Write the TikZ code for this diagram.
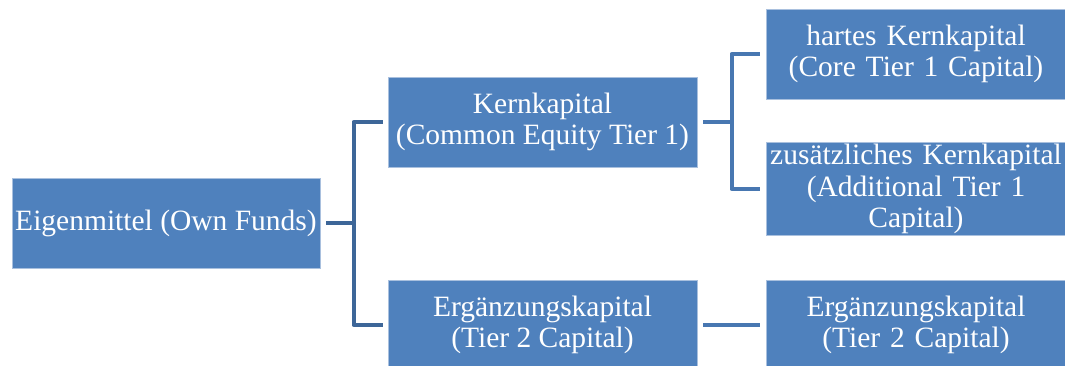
\documentclass[tikz,border=0pt]{standalone}
\usepackage{fontspec}
\setmainfont{Liberation Serif}
\definecolor{boxblue}{HTML}{4F81BD}
\definecolor{boxedge}{HTML}{A9C0DE}
\definecolor{connA}{HTML}{3D6698}
\definecolor{connB}{HTML}{4877B1}
\begin{document}
\begin{tikzpicture}[x=1pt,y=-1pt,
  box/.style={fill=boxblue,draw=boxedge,line width=0.8pt,inner xsep=0pt,inner ysep=2pt,
    text=white,align=center,minimum height=90pt,
    font=\fontsize{29.5}{31.5}\selectfont},
  connL/.style={draw=connA,line width=4pt,line join=round},
  connR/.style={draw=connB,line width=4pt,line join=round}]
\useasboundingbox (0,0) rectangle (1065,365);
\node[box,minimum width=308pt] (A) at (166,223) {Eigenmittel (Own Funds)};
\node[box,minimum width=309pt] (B) at (542.5,122) {Kernkapital\\(Common Equity Tier 1)};
\node[box,minimum width=309pt] (C) at (542.5,325) {Ergänzungskapital\\(Tier 2 Capital)};
\node[box,text width=300pt] (D) at (916,54) {hartes Kernkapital\\(Core Tier 1 Capital)};
\node[box,text width=300pt] (E) at (916,189) {zusätzliches Kernkapital\\(Additional Tier 1\\Capital)};
\node[box,text width=300pt] (F) at (916,325) {Ergänzungskapital\\(Tier 2 Capital)};
\coordinate (j1) at (355,223);
\coordinate (j2) at (732,122);
\draw[connL] ([xshift=6pt]A.east) -- (j1);
\draw[connL] ([xshift=-5pt]B.west) -- ++(-29,0) |- ([xshift=-5pt]C.west);
\draw[connR] ([xshift=6pt]B.east) -- (j2);
\draw[connR] ([xshift=-6pt]D.west) -- ++(-28,0) |- ([xshift=-6pt]E.west);
\draw[connR] ([xshift=6pt]C.east) -- ([xshift=-6pt]F.west);
\end{tikzpicture}
\end{document}
